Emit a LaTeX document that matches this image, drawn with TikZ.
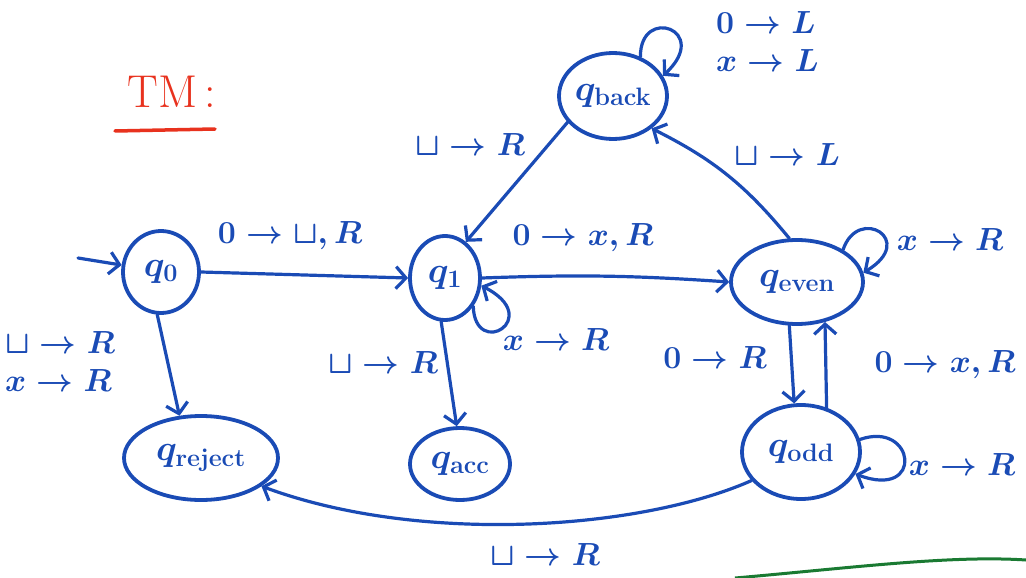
\RequirePackage{fix-cm}
\documentclass[tikz,border=0pt]{standalone}
\usetikzlibrary{shapes.geometric,arrows.meta}
\definecolor{ink}{HTML}{1A4BB5}
\definecolor{tmred}{HTML}{E8321E}
\definecolor{pen}{HTML}{1A7A32}
\begin{document}
\begin{tikzpicture}[x=1pt,y=-1pt,
  state/.style={ellipse,draw=ink,line width=3.8pt,inner sep=0pt,text=ink,font=\fontsize{36}{40}\selectfont\boldmath},
  tr/.style={draw=ink,line width=3.2pt,line cap=round,-{Straight Barb[length=10pt,width=22pt,line width=3.2pt]}},
  lab/.style={text=ink,font=\fontsize{32}{38}\selectfont\boldmath,inner sep=1pt,align=left}]
\useasboundingbox (0,0) rectangle (1026,578);
% title
\node[text=tmred,font=\fontsize{46}{50}\selectfont] (tm) at (172,92) {TM\,:};
\coordinate (ul1) at (115,131);
\coordinate (ul2) at (215,129);
\draw[tmred,line width=3.5pt,line cap=round] (ul1) -- (ul2);
% states
\node[state,minimum width=76pt,minimum height=82pt] (q0) at (161,272) {$q_0$};
\node[state,minimum width=70pt,minimum height=84pt] (q1) at (445,278) {$q_1$};
\node[state,minimum width=108pt,minimum height=86pt] (qb) at (613,96) {$q_{\mathrm{back}}$};
\node[state,minimum width=132pt,minimum height=84pt] (qe) at (797,282) {$q_{\mathrm{even}}$};
\node[state,minimum width=118pt,minimum height=94pt] (qo) at (801,452) {$q_{\mathrm{odd}}$};
\node[state,minimum width=154pt,minimum height=84pt] (qr) at (201,458) {$q_{\mathrm{reject}}$};
\node[state,minimum width=100pt,minimum height=72pt] (qa) at (460,464) {$q_{\mathrm{acc}}$};
% start
\coordinate (st) at (78,258);
\draw[tr] (st) -- (q0.170);
% edges
\draw[tr] (q0.east) -- (q1.west);
\node[lab] (l01) at (290,236) {$0\to\sqcup,R$};
\draw[tr] (q0.-95) -- (qr.117);
\node[lab,anchor=west] (l0r) at (4,362) {$\sqcup\to R$\\$x\to R$};
\draw[tr] (q1.-95) -- (qa.95);
\node[lab] (l1a) at (383,363) {$\sqcup\to R$};
\draw[tr] (q1.-45) .. controls (475,360) and (545,318) .. (q1.-12);
\node[lab] (l11) at (556,340) {$x\to R$};
\draw[tr] (q1.east) to[bend left=3] (qe.west);
\node[lab] (l1e) at (583,238) {$0\to x,R$};
\draw[tr] (qe.35) .. controls (858,205) and (918,240) .. (qe.8);
\node[lab] (lee) at (950,240) {$x\to R$};
\draw[tr] (qe.-100) -- (qo.98);
\node[lab] (leo) at (715,358) {$0\to R$};
\draw[tr] (qo.60) -- (qe.-55);
\node[lab] (loe) at (945,365) {$0\to x,R$};
\draw[tr] (qo.12) .. controls (915,420) and (925,500) .. (qo.-22);
\node[lab] (loo) at (962,465) {$x\to R$};
\draw[tr] (qo.-150) .. controls (640,530) and (420,545) .. (qr.-25);
\node[lab] (lor) at (545,555) {$\sqcup\to R$};
\draw[tr] (qe.100) to[bend right=12] (qb.-40);
\node[lab] (leb) at (787,155) {$\sqcup\to L$};
\draw[tr] (qb.55) .. controls (640,5) and (712,30) .. (qb.22);
\node[lab,anchor=west] (lbb) at (715,42) {$0\to L$\\$x\to L$};
\draw[tr] (qb.-150) -- (q1.60);
\node[lab] (lb1) at (470,145) {$\sqcup\to R$};
% green pen stroke
\coordinate (g1) at (735,578);
\coordinate (g2) at (1026,560);
\draw[pen,line width=3pt] (g1) .. controls (850,568) and (950,555) .. (g2);
\end{tikzpicture}
\end{document}
